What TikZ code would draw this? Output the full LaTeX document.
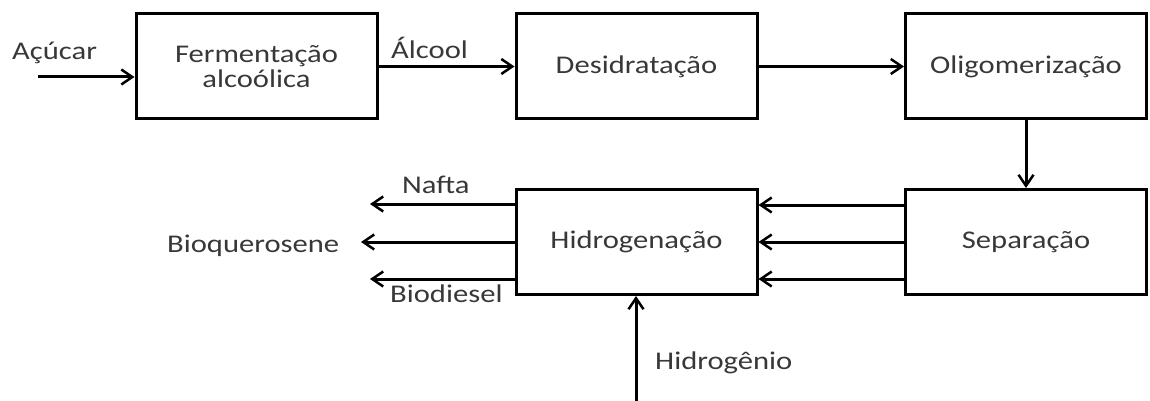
\documentclass[tikz,border=0pt]{standalone}
\usepackage{fontspec}
\setmainfont{Carlito}[FakeStretch=1.2]
\usetikzlibrary{arrows.meta}
\begin{document}
\begin{tikzpicture}[x=1pt,y=-1pt,
  txt/.style={font=\fontsize{25.5}{25}\selectfont, text=black!78},
  proc/.style={txt, draw=black, line width=3pt, minimum width=241pt,
    minimum height=105pt, inner sep=0pt, align=center},
  lbl/.style={txt, inner sep=0pt, anchor=base west},
  flow/.style={line width=3pt, draw=black,
    -{Straight Barb[length=11pt,width=15pt,line width=2.5pt]}}]
\useasboundingbox (0,0) rectangle (1150,401);

% process blocks
\node[proc] (ferm) at (256.5,66.5) {Fermentação\\alcoólica};
\node[proc] (desi) at (636.5,66.5) {Desidratação};
\node[proc] (olig) at (1026,66.5) {Oligomerização};
\node[proc] (sepa) at (1026,242) {Separação};
\node[proc] (hidr) at (636.5,242) {Hidrogenação};

% stream labels
\node[lbl] (acucar) at (12,60) {Açúcar};
\node[lbl] (alcool) at (391,59) {Álcool};
\node[lbl] (nafta) at (402,193) {Nafta};
\node[lbl] (bioq) at (167,252) {Bioquerosene};
\node[lbl] (biod) at (390,302) {Biodiesel};
\node[lbl] (hidrog) at (655,369) {Hidrogênio};

% free ends of the feed and product streams
\coordinate (acin) at (38,77);
\coordinate (h2in) at (636,401);
\coordinate (naout) at (370,204);
\coordinate (bqout) at (361,242);
\coordinate (bdout) at (370,279);

% main line
\draw[flow] (acin) -- (acin -| ferm.west);
\draw[flow] (ferm.east) -- (desi.west);
\draw[flow] (desi.east) -- (olig.west);
\draw[flow] (olig.south) -- (sepa.north);

% three cuts from separation to hydrogenation
\foreach \dy in {37,0,-37}
  \draw[flow] ([yshift=\dy pt]sepa.west) -- ([yshift=\dy pt]sepa.west -| hidr.east);

% products and hydrogen feed
\draw[flow] (hidr.west |- naout) -- (naout);
\draw[flow] (hidr.west |- bqout) -- (bqout);
\draw[flow] (hidr.west |- bdout) -- (bdout);
\draw[flow] (h2in) -- (h2in |- hidr.south);
\end{tikzpicture}
\end{document}
